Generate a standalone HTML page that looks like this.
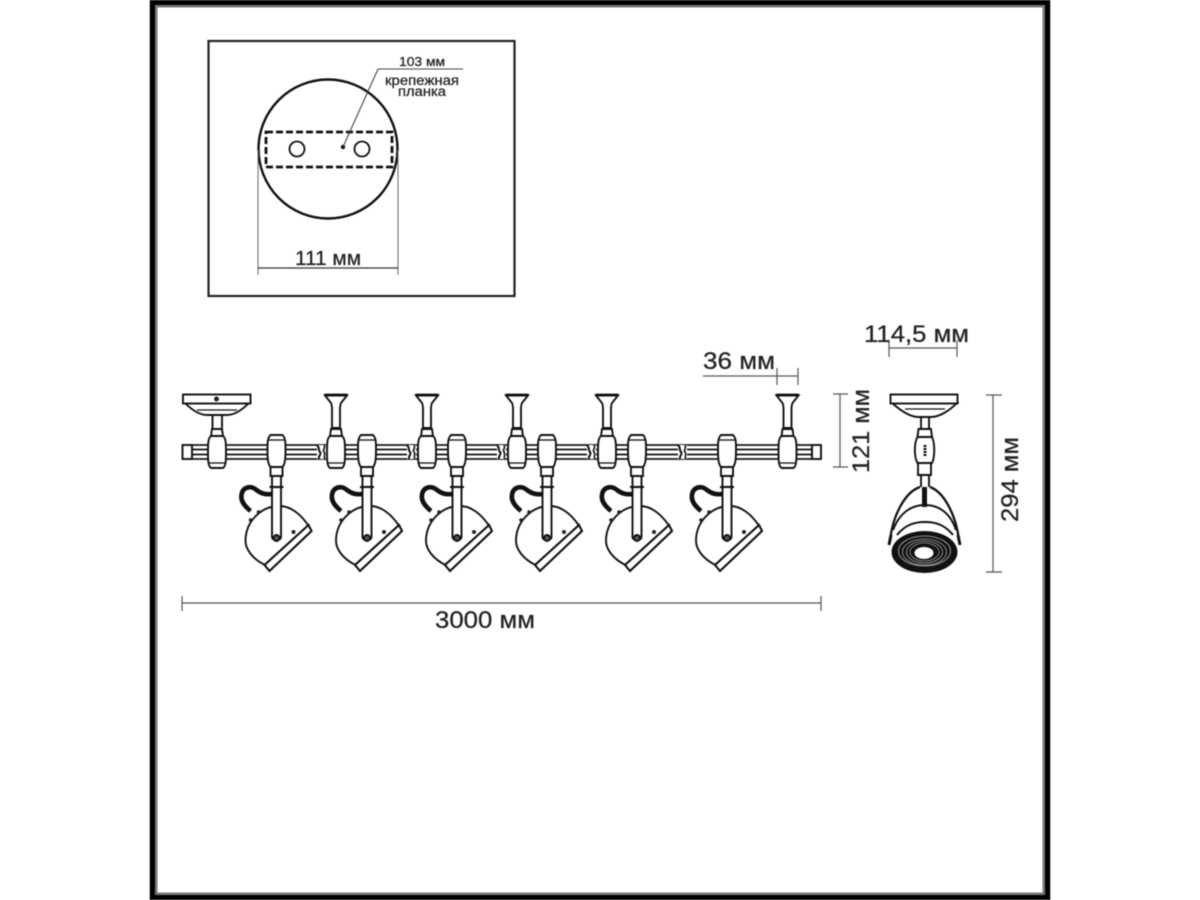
<!DOCTYPE html>
<html><head><meta charset="utf-8"><style>
html,body{margin:0;padding:0;background:#fff;width:1200px;height:900px;overflow:hidden}
svg{display:block;filter:blur(.45px)}
text{font-family:"Liberation Sans",sans-serif;fill:#222;stroke:#222;stroke-width:.25px}
</style></head><body>
<svg width="1200" height="900" viewBox="0 0 1200 900" xmlns="http://www.w3.org/2000/svg">
<defs>
<g id="holder" fill="#fff" stroke="#111" stroke-width="1.900">
  <path d="M-5 -7H5L6 0H-6Z"/>
  <path d="M-6 0C-9 2 -9 8 -9 16C-9 24 -9 30 -6 32H6C9 30 9 24 9 16C9 8 9 2 6 0Z"/>
  <path d="M-8 27H8" stroke-width="1.300"/>
</g>
<g id="upright" fill="#fff" stroke="#111" stroke-width="1.900">
  <path d="M-11 -40.500H11L5 -33C3.500 -30 4 -26 4 -22V-8H-4V-22C-4 -26 -3.500 -30 -5 -33Z"/>
  <path d="M-11.500 -41H11.500" stroke-width="2.800"/>
  <use href="#holder" y="0"/>
</g>
<g id="lamp">
  <path d="M31.500 -13C24 -24 14 -32 3 -32C-16 -32 -31 -16 -31 3C-31 11 -24 21 -11.500 27" fill="#fff" stroke="#111" stroke-width="1.900"/>
  <path d="M32 -13L-12 27L-7 33L35 -7Z" fill="#fff" stroke="#111" stroke-width="2.100"/>
  <path d="M-4 -44C-12 -43 -16 -45 -20 -48C-26 -53 -34 -51 -35 -43C-36 -37 -32 -32 -26 -27" fill="none" stroke="#111" stroke-width="4.600"/>
  <circle cx="-18" cy="-26" r="1.800" fill="#222"/>
  <circle cx="-26" cy="-18" r="1.800" fill="#222"/>
  <circle cx="17" cy="-6" r="2" fill="#222"/>
  <path d="M-4.500 -62V-1C-4.500 3 4.500 3 4.500 -1V-62" fill="#fff" stroke="#111" stroke-width="1.900"/>
  <circle cx="0" cy="0" r="3" fill="#555" stroke="#111" stroke-width="1.900"/>
  <path d="M-7 -51H7" stroke="#111" stroke-width="2.100"/>
  <path d="M-6 -71H6V-62H-6Z" fill="#fff" stroke="#111" stroke-width="1.900"/>
  <path d="M-6 -71C-9 -74 -9 -82 -9 -89C-9 -96 -9 -100 -6 -103H6C9 -100 9 -96 9 -89C9 -82 9 -74 6 -71Z" fill="#fff" stroke="#111" stroke-width="1.900"/>
  <path d="M-8 -98H8" stroke="#111" stroke-width="1.300"/>
</g>
<g id="sq">
  <path d="M-4 -7H5V7H-4Z" fill="#fff" stroke="none"/>
  <path d="M-4 -7C-1 -4 -3 -2 -1 0C1 2 -3 4 -2 7" fill="none" stroke="#111" stroke-width="2"/>
  <path d="M3 -7C5 -4 1 -2 3 0C5 2 2 5 4 7" fill="none" stroke="#111" stroke-width="1.600"/>
</g>
</defs>

<!-- frame -->
<rect x="152.500" y="2.500" width="895" height="895" fill="none" stroke="#000" stroke-width="5.500"/>
<rect x="156.500" y="6.500" width="887" height="887" fill="none" stroke="#777" stroke-width="2"/>

<!-- inset -->
<rect x="208.500" y="41" width="306" height="255" fill="#fff" stroke="#222" stroke-width="2.200"/>
<circle cx="328" cy="149" r="69.500" fill="#fff" stroke="#111" stroke-width="2.400"/>
<rect x="266" y="132" width="126" height="35" fill="none" stroke="#111" stroke-width="2.800" stroke-dasharray="7 3"/>
<circle cx="297" cy="149" r="7.500" fill="#fff" stroke="#111" stroke-width="1.800"/>
<circle cx="362" cy="149" r="7.500" fill="#fff" stroke="#111" stroke-width="1.800"/>
<circle cx="343" cy="147" r="2.200" fill="#111"/>
<path d="M343 147L378 69H463" fill="none" stroke="#444" stroke-width="1.100"/>
<text x="399" y="66" font-size="13" textLength="46" lengthAdjust="spacingAndGlyphs">103 мм</text>
<text x="385" y="85" font-size="13.500" textLength="74" lengthAdjust="spacingAndGlyphs">крепежная</text>
<text x="398" y="96" font-size="13.500" textLength="48" lengthAdjust="spacingAndGlyphs">планка</text>
<path d="M258 150V275M398 150V275" stroke="#666" stroke-width="1" fill="none"/>
<path d="M258 268H398" stroke="#333" stroke-width="1.300" fill="none"/>
<text x="295" y="265" font-size="20" textLength="66" lengthAdjust="spacingAndGlyphs">111 мм</text>

<!-- rail -->
<rect x="191" y="445" width="621" height="14" fill="#fff" stroke="#111" stroke-width="1.700"/>
<path d="M191 449.500H812M191 454.500H812" stroke="#111" stroke-width="1.700" fill="none"/>
<rect x="182.500" y="445" width="9.500" height="14" fill="#fff" stroke="#111" stroke-width="1.900"/>
<rect x="812" y="445" width="9" height="14" fill="#fff" stroke="#111" stroke-width="1.900"/>
<use href="#sq" x="321" y="452"/><use href="#sq" x="411" y="452"/><use href="#sq" x="501" y="452"/><use href="#sq" x="591" y="452"/><use href="#sq" x="682" y="452"/>

<!-- ceiling mount left -->
<g fill="#fff" stroke="#111" stroke-width="1.900">
  <path d="M212.500 414V428M222 414V428"/>
  <path d="M185 403C192 410 200 415 207 415H227C234 415 242 410 249 403Z"/>
  <path d="M197 410H237" stroke-width="1.300"/>
  <rect x="183" y="394.500" width="67.500" height="9"/>
</g>
<circle cx="216.500" cy="399" r="2.500" fill="#222"/>
<use href="#holder" x="217" y="436"/>

<!-- uprights -->
<use href="#upright" x="336" y="436"/>
<use href="#upright" x="427" y="436"/>
<use href="#upright" x="517" y="436"/>
<use href="#upright" x="607" y="436"/>
<use href="#upright" x="787.500" y="436"/>

<!-- lamps -->
<use href="#lamp" x="276.500" y="538"/>
<use href="#lamp" x="367" y="538"/>
<use href="#lamp" x="457" y="538"/>
<use href="#lamp" x="547" y="538"/>
<use href="#lamp" x="637" y="538"/>
<use href="#lamp" x="727" y="538"/>

<!-- side view -->
<g fill="#fff" stroke="#111" stroke-width="1.900">
  <path d="M921 415V428M929 415V428"/>
  <path d="M892 403C900 410 910 417 918 417H931C940 417 950 410 957 403Z"/>
  <path d="M905 409H945" stroke-width="1.300"/>
  <rect x="890.500" y="394.500" width="67" height="9"/>
  <path d="M918.500 429H931L932 437H917.500Z"/>
  <path d="M917.500 437C914 443 914 457 917.500 463H932C935 457 935 443 932 437Z"/>
  <path d="M918 463H931V475H918Z"/>
  <path d="M921 475V487M929 475V487"/>
  <path d="M920 487C905 492 893 515 890 540M930 487C944 492 956 515 959 540" fill="none" stroke-width="2.300"/>
  <path d="M893 530C900 512 912 505 925 505C938 505 950 512 956 530" fill="none" stroke-width="2"/>
  <path d="M897 535C905 525 914 522 925 522C936 522 945 525 953 535" fill="none" stroke-width="2"/>
</g>
<rect x="922" y="487" width="5" height="20" fill="#111"/>
<path d="M925 445V456" stroke="#111" stroke-width="3" stroke-dasharray="2 1"/>
<path d="M889 545L891 535M960 545L958 535" stroke="#111" stroke-width="3"/>
<ellipse cx="924.500" cy="552" rx="33" ry="21" fill="#111"/>
<ellipse cx="924.500" cy="551" rx="26" ry="15" fill="none" stroke="#bbb" stroke-width=".8"/>
<ellipse cx="924.500" cy="552" rx="22" ry="13" fill="none" stroke="#aaa" stroke-width=".8"/>
<ellipse cx="924.500" cy="552" rx="18" ry="11" fill="none" stroke="#aaa" stroke-width=".8"/>
<ellipse cx="924.500" cy="552" rx="14.500" ry="9" fill="none" stroke="#999" stroke-width=".8"/>
<ellipse cx="924" cy="553" rx="9.500" ry="6" fill="#fff"/>

<!-- dimensions -->
<g stroke="#555" stroke-width="1.200" fill="none">
  <path d="M703 376H798M777 368V385M798 368V385"/>
  <path d="M840 394V467M833 394H848M833 467H848"/>
  <path d="M889 348H957M889 340V357M957 340V357"/>
  <path d="M993 395V572M986 395H1002M986 572H1002"/>
  <path d="M182 603H821M182 596V611M821 596V611"/>
</g>
<text x="703" y="369" font-size="24" textLength="72" lengthAdjust="spacingAndGlyphs">36 мм</text>
<text x="864" y="342" font-size="24" textLength="105" lengthAdjust="spacingAndGlyphs">114,5 мм</text>
<text x="435" y="628" font-size="24" textLength="100" lengthAdjust="spacingAndGlyphs">3000 мм</text>
<text transform="translate(869 473) rotate(-90)" font-size="24" textLength="84" lengthAdjust="spacingAndGlyphs">121 мм</text>
<text transform="translate(1018 522) rotate(-90)" font-size="24" textLength="85" lengthAdjust="spacingAndGlyphs">294 мм</text>
</svg>
</body></html>
